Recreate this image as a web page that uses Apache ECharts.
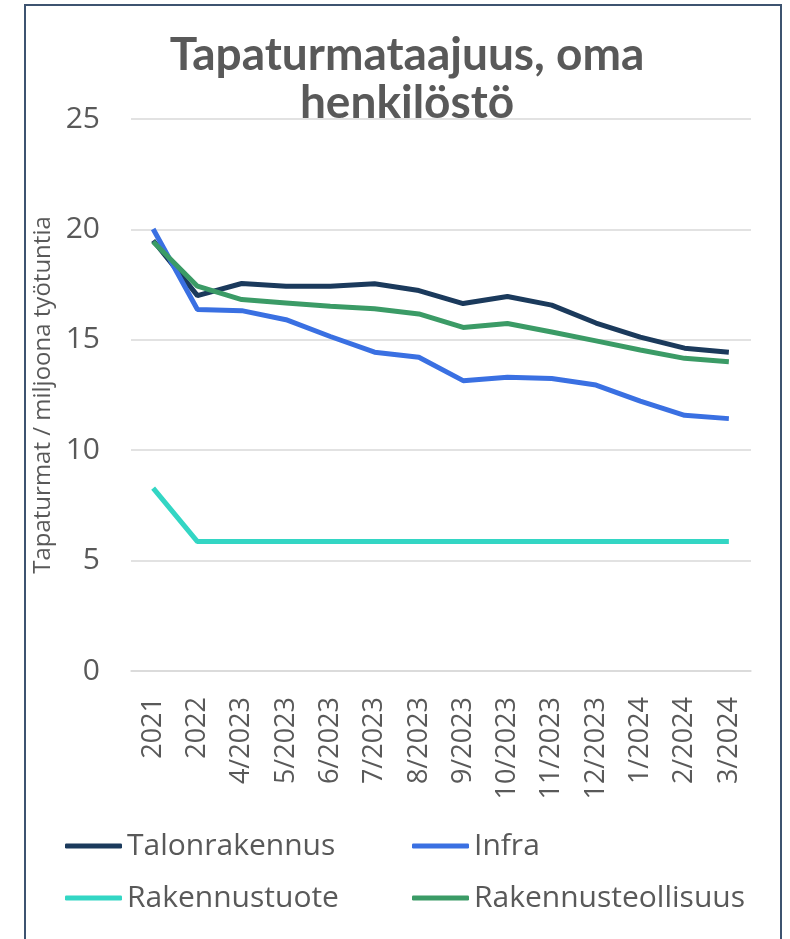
<!DOCTYPE html>
<html>
<head>
<meta charset="utf-8">
<script src="https://cdn.jsdelivr.net/npm/echarts@6/dist/echarts.min.js"></script>
<style>
  html, body { margin: 0; padding: 0; background: #fff; }
  #chart { width: 790px; height: 939px; }
</style>
</head>
<body>
<div id="chart"></div>
<script>
// kuukaudet / vuodet
var categories = ["2021", "2022", "4/2023", "5/2023", "6/2023", "7/2023", "8/2023",
  "9/2023", "10/2023", "11/2023", "12/2023", "1/2024", "2/2024", "3/2024"];

var talonrakennus = [19.5, 17.0, 17.55, 17.43, 17.43, 17.54, 17.23, 16.64, 16.96, 16.57, 15.76, 15.12, 14.62, 14.44];
var infra = [20.02, 16.37, 16.32, 15.91, 15.15, 14.44, 14.21, 13.15, 13.3, 13.25, 12.95, 12.22, 11.58, 11.43];
var rakennustuote = [8.28, 5.86, 5.86, 5.86, 5.86, 5.86, 5.86, 5.86, 5.86, 5.86, 5.86, 5.86, 5.86, 5.86];
var rakennusteollisuus = [19.44, 17.43, 16.82, 16.67, 16.52, 16.41, 16.17, 15.56, 15.74, 15.35, 14.95, 14.54, 14.16, 14.01];

var yTicks = [0, 5, 10, 15, 20, 25];

var textColor = "#595959";
var font = "Open Sans";

var chart = echarts.init(document.getElementById("chart"));

function line(name, data, color) {
  return {
    name: name,
    type: "line",
    data: data,
    symbol: "none",
    lineStyle: { color: color, width: 5 },
    itemStyle: { color: color },
    animation: false
  };
}

// yksi legenda per sarja, jotta sarakkeet asettuvat kuten mallissa
function legendItem(name, left, top) {
  return {
    data: [name],
    left: left,
    top: top,
    padding: 0,
    itemWidth: 57,
    itemHeight: 5,
    icon: "roundRect",
    textStyle: { color: textColor, fontSize: 30, fontFamily: font }
  };
}

var option = {
  backgroundColor: "#fff",
  title: {
    text: "Tapaturmataajuus, oma\nhenkilöstö",
    left: 402,
    top: 26,
    textAlign: "center",
    textStyle: {
      color: textColor,
      fontSize: 46,
      fontWeight: "bold",
      fontFamily: "Lato",
      lineHeight: 48
    }
  },
  graphic: [{
    type: "rect",
    shape: { x: 25, y: 5, width: 756, height: 960 },
    style: { fill: "none", stroke: "#3d5370", lineWidth: 2 },
    silent: true
  }],
  legend: [
    legendItem("Talonrakennus", 65, 831),
    legendItem("Infra", 412, 831),
    legendItem("Rakennustuote", 65, 883),
    legendItem("Rakennusteollisuus", 412, 883)
  ],
  grid: { left: 131, right: 39, top: 119, bottom: 268 },
  xAxis: {
    type: "category",
    data: categories,
    boundaryGap: true,
    axisLine: { show: true, lineStyle: { color: "#d9d9d9", width: 1.5 } },
    axisTick: { show: false },
    axisLabel: {
      rotate: 90,
      interval: 0,
      margin: 26,
      color: textColor,
      fontSize: 27,
      fontFamily: font
    }
  },
  yAxis: {
    type: "value",
    min: yTicks[0],
    max: yTicks[yTicks.length - 1],
    interval: 5,
    name: "Tapaturmat / miljoona työtuntia",
    nameLocation: "middle",
    nameGap: 74,
    nameRotate: 90,
    nameTextStyle: { color: textColor, fontSize: 24, fontFamily: font },
    axisLine: { show: false },
    axisTick: { show: false },
    splitLine: { lineStyle: { color: "#d9d9d9", width: 1.5 } },
    axisLabel: {
      margin: 31,
      color: textColor,
      fontSize: 30,
      fontFamily: font
    }
  },
  series: [
    line("Talonrakennus", talonrakennus, "#1b3a5c"),
    line("Infra", infra, "#3a70e2"),
    line("Rakennustuote", rakennustuote, "#33d6c4"),
    line("Rakennusteollisuus", rakennusteollisuus, "#3b9b66")
  ]
};

chart.setOption(option);
</script>
</body>
</html>
